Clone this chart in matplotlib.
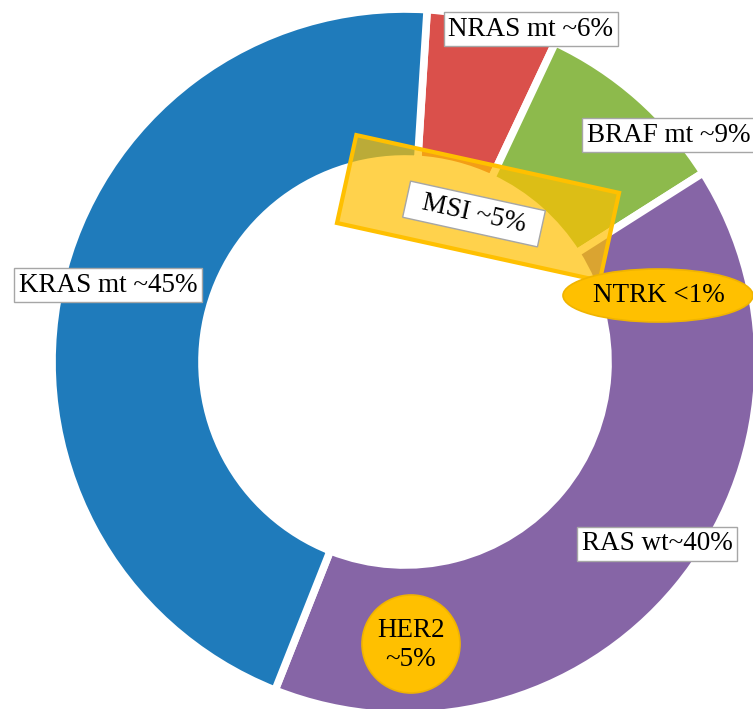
import numpy as np
import matplotlib.pyplot as plt
from matplotlib.patches import Rectangle, Ellipse, Circle

# slices, clockwise from the top
labels = ["NRAS mt ~6%", "BRAF mt ~9%", "RAS wt~40%", "KRAS mt ~45%"]
values = [6, 9, 40, 45]
colors = ["#DA504B", "#8DBA4C", "#8665A6", "#1F7BBB"]

# callouts
msi_text = "MSI ~5%"
ntrk_text = "NTRK <1%"
her2_text = "HER2\n~5%"

W, H = 753, 709

fig = plt.figure(figsize=(W / 100, H / 100), dpi=100)
ax = fig.add_axes([0, 0, 1, 1])

cx, cy = 405, H - 362

ax.pie(
    values,
    colors=colors,
    startangle=86.4,
    counterclock=False,
    radius=353,
    center=(cx, cy),
    wedgeprops=dict(width=150, edgecolor="white", linewidth=5.5),
)

ax.set_xlim(0, W)
ax.set_ylim(0, H)
ax.set_aspect("equal")
ax.axis("off")

font = dict(family="Liberation Serif", fontsize=19.5, color="black")
box = dict(boxstyle="square,pad=0.18", facecolor="white",
           edgecolor="#A6A6A6", linewidth=1)

# label positions (pixel coords, y from top)
label_pos = [(531, 29), (669, 135), (657, 544), (108, 285)]
for text, (x, y) in zip(labels, label_pos):
    ax.text(x, H - y, text, ha="center", va="center", bbox=box, **font)

# MSI highlight
tilt = -12.4
ax.add_patch(
    Rectangle(
        (337, H - 223), 269, 90,
        angle=tilt,
        facecolor="#FFC000",
        alpha=0.7,
        edgecolor="none",
        zorder=3
    )
)
ax.add_patch(
    Rectangle(
        (337, H - 223), 269, 90,
        angle=tilt,
        facecolor="none",
        edgecolor="#FFC000",
        linewidth=3,
        zorder=3
    )
)

# white tilted box behind the MSI text
mx, my = 474, H - 214
bw, bh = 138, 37
t = np.radians(tilt)
u = np.array([np.cos(t), np.sin(t)])
v = np.array([-np.sin(t), np.cos(t)])
corner = np.array([mx, my]) - u * bw / 2 - v * bh / 2
ax.add_patch(
    Rectangle(
        tuple(corner), bw, bh,
        angle=tilt,
        facecolor="white",
        edgecolor="#A6A6A6",
        linewidth=1,
        zorder=4
    )
)
ax.text(mx, my, msi_text, ha="center", va="center",
        rotation=tilt, rotation_mode="anchor", zorder=5, **font)

# NTRK
ax.add_patch(
    Ellipse(
        (658, H - 295.5), 190, 53,
        facecolor="#FFC000",
        edgecolor="#F0B400",
        linewidth=1.2,
        zorder=5
    )
)
ax.text(659, H - 296, ntrk_text, ha="center", va="center", zorder=6, **font)

# HER2
ax.add_patch(
    Circle(
        (411, H - 644), 49,
        facecolor="#FFC000",
        edgecolor="#F0B400",
        linewidth=1.2,
        zorder=5
    )
)
ax.text(411, H - 645, her2_text, ha="center", va="center",
        linespacing=1.25, zorder=6, **font)

fig.savefig("out.png", dpi=100)
